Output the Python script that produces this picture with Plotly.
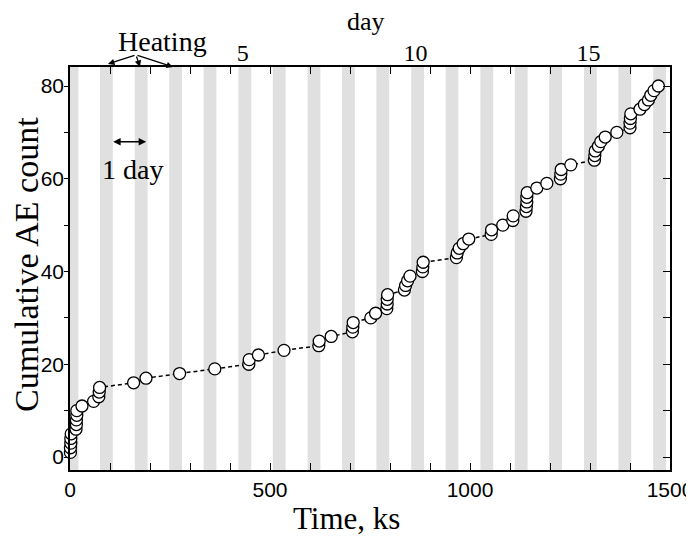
import plotly.graph_objects as go

# ---- data ----
time_ks = [1, 1, 2, 2, 3,
           15, 16, 16, 17, 17,
           30, 59, 72, 73, 74,
           159, 190, 274, 362, 447, 448, 471, 535, 622, 623, 653,
           706, 707, 708, 752, 764, 792, 793, 793, 794,
           836, 839, 844, 850, 881, 882, 883,
           966, 968, 973, 983, 997, 1053, 1054, 1082, 1107, 1108,
           1140, 1141, 1142, 1142, 1143, 1167, 1192, 1226, 1227, 1228, 1252,
           1311, 1312, 1313, 1321, 1327, 1338, 1367,
           1400, 1400, 1401, 1402, 1425, 1436, 1446, 1452, 1460, 1471]
ae_count = list(range(1, len(time_ks) + 1))

heating_start_ks = [-11, 75, 162, 248, 334, 421, 507, 594, 680, 766, 853,
                    939, 1026, 1112, 1198, 1285, 1371, 1458]
heating_len_ks = 32

day_ticks = [5, 10, 15]
KS_PER_DAY = 86.4

SERIF = "Liberation Serif, Times New Roman, serif"
SANS = "Liberation Sans, Arial, sans-serif"

fig = go.Figure()

shapes = []
for s in heating_start_ks:
    shapes.append(dict(type="rect", xref="x", yref="paper",
                       x0=max(s, 0), x1=s + heating_len_ks, y0=0, y1=1,
                       fillcolor="#e0e0e0", line=dict(width=0), layer="below"))

fig.add_trace(go.Scatter(
    x=time_ks, y=ae_count, mode="lines+markers",
    line=dict(color="black", width=1.5, dash="4px,3px"),
    marker=dict(symbol="circle", size=12, color="white",
                line=dict(color="black", width=1.3)),
    cliponaxis=False, showlegend=False, hoverinfo="x+y"))

# dummy traces to activate overlay axes
fig.add_trace(go.Scatter(x=[None], y=[None], xaxis="x2", yaxis="y", showlegend=False))
fig.add_trace(go.Scatter(x=[None], y=[None], xaxis="x3", yaxis="y", showlegend=False))
fig.add_trace(go.Scatter(x=[None], y=[None], xaxis="x", yaxis="y2", showlegend=False))
fig.add_trace(go.Scatter(x=[None], y=[None], xaxis="x", yaxis="y3", showlegend=False))

yr = [-2.8, 84.1]
fig.update_layout(
    width=694, height=549,
    margin=dict(l=62, r=32, t=59, b=87),
    plot_bgcolor="white", paper_bgcolor="white",
    shapes=shapes,
    xaxis=dict(range=[0, 1500], dtick=500, tick0=0, ticks="inside", ticklen=7,
               tickwidth=1.2, tickcolor="black", automargin=False,
               minor=dict(dtick=100, ticks="inside", ticklen=7, tickwidth=1.2, tickcolor="black"),
               showline=True, linecolor="black", linewidth=1.5, showgrid=False, zeroline=False,
               tickfont=dict(family=SANS, size=21, color="black")),
    xaxis2=dict(overlaying="x", side="top", anchor="y", automargin=False,
                range=[0, 1500 / KS_PER_DAY], tickvals=day_ticks, ticks="",
                showline=False, showgrid=False, zeroline=False,
                tickfont=dict(family=SERIF, size=24, color="black")),
    xaxis3=dict(overlaying="x", side="top", anchor="y", range=[0, 1500], dtick=100,
                automargin=False,
                ticks="inside", ticklen=7, tickwidth=1.2, tickcolor="black",
                showticklabels=False, showline=True, linecolor="black", linewidth=1.5,
                showgrid=False, zeroline=False),
    # left axis: labels close to the axis line
    yaxis=dict(range=yr, dtick=20, tick0=0, ticks="", automargin=False,
               showline=True, linecolor="black", linewidth=1.5, showgrid=False, zeroline=False,
               tickfont=dict(family=SANS, size=21, color="black")),
    # left outside ticks
    yaxis3=dict(overlaying="y", side="left", anchor="x", range=yr, dtick=10, tick0=0,
                automargin=False, ticks="outside", ticklen=5, tickwidth=1.2,
                tickcolor="black", showticklabels=False, showline=False,
                showgrid=False, zeroline=False),
    yaxis2=dict(overlaying="y", side="right", anchor="x", range=yr, dtick=10, tick0=0,
                automargin=False,
                ticks="inside", ticklen=7, tickwidth=1.2, tickcolor="black",
                showticklabels=False, showline=True, linecolor="black", linewidth=1.5,
                showgrid=False, zeroline=False),
)

# ---- annotations ----
def px2paper(px, py):
    return (px - 70) / 600.0, (470 - py) / 403.0

ann = []
# axis titles
tx, ty = px2paper(346, 518)
ann.append(dict(x=tx, y=ty, xref="paper", yref="paper", text="Time, ks", showarrow=False,
                xanchor="center", yanchor="middle",
                font=dict(family=SERIF, size=31, color="black")))
tx, ty = px2paper(26, 265)
ann.append(dict(x=tx, y=ty, xref="paper", yref="paper", text="Cumulative AE count",
                showarrow=False, textangle=-90, xanchor="center", yanchor="middle",
                font=dict(family=SERIF, size=34, color="black")))
tx, ty = px2paper(366, 22)
ann.append(dict(x=tx, y=ty, xref="paper", yref="paper", text="day", showarrow=False,
                xanchor="center", yanchor="middle",
                font=dict(family=SERIF, size=26, color="black")))

hx, hy = px2paper(162, 42)
ann.append(dict(x=hx, y=hy, xref="paper", yref="paper", text="Heating", showarrow=False,
                xanchor="center", yanchor="middle",
                font=dict(family=SERIF, size=28, color="black")))
tail = (136, 55)
for head in [(108, 64), (140, 67), (173, 67)]:
    x, y = px2paper(*head)
    ann.append(dict(x=x, y=y, xref="paper", yref="paper", text="", showarrow=True,
                    ax=tail[0] - head[0], ay=tail[1] - head[1],
                    arrowhead=2, arrowsize=1, arrowwidth=1.3, arrowcolor="black"))
# 1 day double arrow
ann.append(dict(x=104 + KS_PER_DAY, y=68, xref="x", yref="y", ax=104, ay=68,
                axref="x", ayref="y", text="", showarrow=True, arrowside="end+start",
                arrowhead=2, startarrowhead=2, arrowsize=1, startarrowsize=1,
                arrowwidth=1.5, arrowcolor="black"))
ann.append(dict(x=157, y=62, xref="x", yref="y", text="1 day", showarrow=False,
                xanchor="center", yanchor="middle",
                font=dict(family=SERIF, size=28, color="black")))
fig.update_layout(annotations=ann)

fig.write_html("out.html")
